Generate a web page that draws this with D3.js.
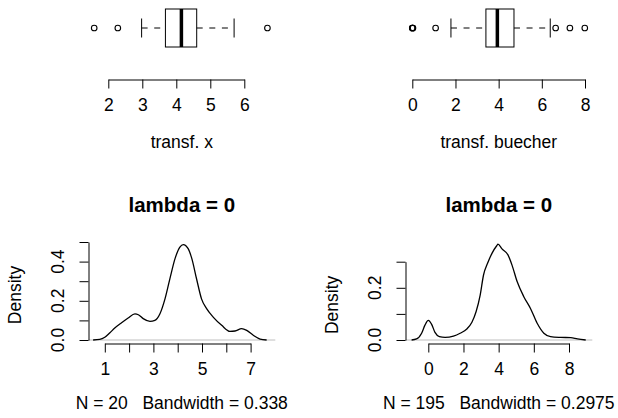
<!DOCTYPE html>
<html>
<head>
<meta charset="utf-8">
<script src="https://cdn.jsdelivr.net/npm/d3@7/dist/d3.min.js"></script>
<style>
  html, body { margin: 0; padding: 0; background: #fff; }
  svg { display: block; }
  text { font-family: "Liberation Sans", Arial, Helvetica, sans-serif; fill: #000; white-space: pre; }
</style>
</head>
<body>
<svg id="chart" width="618" height="418"></svg>
<script>
// ---------------- DATA ----------------
// Boxplot of transformed x (lambda = 0)
const boxX = { lowWhisker: 2.98, q1: 3.68, median: 4.15, q3: 4.60, highWhisker: 5.70 };
const outliersX = [1.585, 2.28, 6.68];
const boxXTicks = [2, 3, 4, 5, 6];
const boxXTickLabels = ["2", "3", "4", "5", "6"];
const boxXLabel = "transf. x";

// Boxplot of transformed buecher (lambda = 0)
const boxB = { lowWhisker: 1.79, q1: 3.41, median: 3.94, q3: 4.71, highWhisker: 6.39 };
const outliersB = [0, 0, 0.02, 0.03, 1.08, 6.64, 7.30, 7.99];
const boxBTicks = [0, 2, 4, 6, 8];
const boxBTickLabels = ["0", "2", "4", "6", "8"];
const boxBLabel = "transf. buecher";

// Density of transformed x
const densX = [
  [0.52,0],[0.79,0.003],[1.0,0.014],[1.21,0.037],[1.41,0.061],[1.69,0.088],[1.96,0.112],
  [2.24,0.133],[2.38,0.129],[2.58,0.109],[2.86,0.095],[3.06,0.100],[3.27,0.134],[3.48,0.211],
  [3.68,0.313],[3.89,0.415],[4.09,0.474],[4.23,0.487],[4.43,0.466],[4.57,0.420],[4.78,0.310],
  [4.98,0.210],[5.19,0.160],[5.46,0.117],[5.81,0.075],[6.15,0.044],[6.36,0.046],[6.63,0.058],
  [6.84,0.049],[7.11,0.024],[7.39,0.005],[7.66,0]
];
const densXTicks = [1, 2, 3, 4, 5, 6, 7];
const densXTickLabels = ["1", "", "3", "", "5", "", "7"];
const densXYTicks = [0, 0.1, 0.2, 0.3, 0.4, 0.5];
const densXYTickLabels = ["0.0", "", "0.2", "", "0.4", ""];
const densXTitle = "lambda = 0";
const densXSub = "N = 20   Bandwidth = 0.338";

// Density of transformed buecher
const densB = [
  [-0.95,0],[-0.67,0.004],[-0.38,0.026],[-0.19,0.057],[0,0.075],[0.19,0.060],[0.38,0.029],
  [0.63,0.013],[0.95,0.010],[1.43,0.015],[1.81,0.026],[2.19,0.042],[2.48,0.068],[2.72,0.109],
  [2.95,0.172],[3.14,0.249],[3.37,0.294],[3.62,0.332],[3.90,0.362],[3.96,0.367],[4.19,0.349],
  [4.53,0.326],[4.76,0.287],[5.05,0.224],[5.43,0.166],[5.81,0.121],[6.19,0.064],[6.57,0.026],
  [6.95,0.013],[7.52,0.010],[8.1,0.009],[8.48,0.004],[8.95,0]
];
const densBTicks = [0, 2, 4, 6, 8];
const densBTickLabels = ["0", "2", "4", "6", "8"];
const densBYTicks = [0, 0.1, 0.2, 0.3];
const densBYTickLabels = ["0.0", "", "0.2", ""];
const densBTitle = "lambda = 0";
const densBSub = "N = 195   Bandwidth = 0.2975";
const yLabel = "Density";

// ---------------- DRAWING ----------------
const svg = d3.select("#chart");
const FS = 17.5;

function drawBox(stats, outliers, ticks, tickLabels, label, x, cx) {
  const g = svg.append("g");
  const cy = 28, hh = 19;
  const dash = "6,6.6";
  g.append("line").attr("x1", x(stats.lowWhisker)).attr("x2", x(stats.q1))
    .attr("y1", cy).attr("y2", cy).attr("stroke", "#000").attr("stroke-dasharray", dash);
  g.append("line").attr("x1", x(stats.q3)).attr("x2", x(stats.highWhisker))
    .attr("y1", cy).attr("y2", cy).attr("stroke", "#000").attr("stroke-dasharray", dash);
  [stats.lowWhisker, stats.highWhisker].forEach(v => {
    g.append("line").attr("x1", x(v)).attr("x2", x(v))
      .attr("y1", cy - hh / 2).attr("y2", cy + hh / 2).attr("stroke", "#000");
  });
  g.append("rect").attr("x", x(stats.q1)).attr("y", cy - hh)
    .attr("width", x(stats.q3) - x(stats.q1)).attr("height", 2 * hh)
    .attr("fill", "none").attr("stroke", "#000");
  g.append("line").attr("x1", x(stats.median)).attr("x2", x(stats.median))
    .attr("y1", cy - hh).attr("y2", cy + hh).attr("stroke", "#000").attr("stroke-width", 3.5);
  g.selectAll("circle.out").data(outliers).enter().append("circle")
    .attr("cx", d => x(d)).attr("cy", cy).attr("r", 2.8)
    .attr("fill", "none").attr("stroke", "#000").attr("stroke-width", 1.1);
  const axY = 79.5;
  const ax = svg.append("g").attr("transform", `translate(0,${axY})`)
    .call(d3.axisBottom(x).tickValues(ticks).tickSize(9).tickSizeOuter(0)
      .tickFormat((d, i) => tickLabels[i]));
  ax.select(".domain").attr("stroke", "#000");
  ax.selectAll(".tick line").attr("stroke", "#000");
  ax.selectAll(".tick text").attr("dy", null).attr("y", 31.5)
    .style("font-size", FS + "px").style("font-family", "'Liberation Sans', Arial, sans-serif");
  svg.append("text").attr("x", cx).attr("y", 147.5).attr("text-anchor", "middle")
    .style("font-size", FS + "px").text(label);
}

function drawDensity(pts, x, y, xTicks, xTickLabels, yTicks, yTickLabels, title, sub, left, right, cx) {
  const axY = 343.5;
  svg.append("line").attr("x1", left).attr("x2", right).attr("y1", y(0)).attr("y2", y(0))
    .attr("stroke", "#BEBEBE");
  const line = d3.line().x(d => x(d[0])).y(d => y(d[1])).curve(d3.curveMonotoneX);
  svg.append("path").datum(pts).attr("d", line).attr("fill", "none")
    .attr("stroke", "#000").attr("stroke-width", 1.3);
  const ax = svg.append("g").attr("transform", `translate(0,${axY})`)
    .call(d3.axisBottom(x).tickValues(xTicks).tickSize(9).tickSizeOuter(0)
      .tickFormat((d, i) => xTickLabels[i]));
  ax.select(".domain").attr("stroke", "#000");
  ax.selectAll(".tick line").attr("stroke", "#000");
  ax.selectAll(".tick text").attr("dy", null).attr("y", 31.5)
    .style("font-size", FS + "px").style("font-family", "'Liberation Sans', Arial, sans-serif");
  const ay = svg.append("g").attr("transform", `translate(${left},0)`)
    .call(d3.axisLeft(y).tickValues(yTicks).tickSize(9).tickSizeOuter(0).tickFormat(""));
  ay.select(".domain").attr("stroke", "#000");
  ay.selectAll(".tick line").attr("stroke", "#000");
  yTicks.forEach((v, i) => {
    if (!yTickLabels[i]) return;
    svg.append("text").attr("transform", `translate(${left - 25},${y(v)}) rotate(-90)`)
      .attr("text-anchor", "middle").style("font-size", FS + "px").text(yTickLabels[i]);
  });
  svg.append("text").attr("transform", `translate(${left - 67.5},${(y(0) + y(yTicks[yTicks.length - 1])) / 2 + 4}) rotate(-90)`)
    .attr("text-anchor", "middle").style("font-size", FS + "px").text(yLabel);
  svg.append("text").attr("x", cx).attr("y", 212).attr("text-anchor", "middle")
    .style("font-size", "20.5px").style("font-weight", "bold").text(title);
  svg.append("text").attr("x", cx).attr("y", 409).attr("text-anchor", "middle")
    .attr("xml:space", "preserve")
    .style("font-size", FS + "px").text(sub);
}

drawBox(boxX, outliersX, boxXTicks, boxXTickLabels, boxXLabel,
  d3.scaleLinear().domain([2, 6]).range([108.3, 244.3]), 181.8);
drawBox(boxB, outliersB, boxBTicks, boxBTickLabels, boxBLabel,
  d3.scaleLinear().domain([0, 8]).range([412.3, 585]), 498.8);

drawDensity(densX,
  d3.scaleLinear().domain([1, 7]).range([104.8, 250.6]),
  d3.scaleLinear().domain([0, 0.5]).range([340, 242]),
  densXTicks, densXTickLabels, densXYTicks, densXYTickLabels, densXTitle, densXSub,
  88.5, 275.3, 181.8);
drawDensity(densB,
  d3.scaleLinear().domain([0, 8]).range([428.3, 569]),
  d3.scaleLinear().domain([0, 0.3]).range([340, 261.7]),
  densBTicks, densBTickLabels, densBYTicks, densBYTickLabels, densBTitle, densBSub,
  405.5, 592.3, 498.8);
</script>
</body>
</html>
